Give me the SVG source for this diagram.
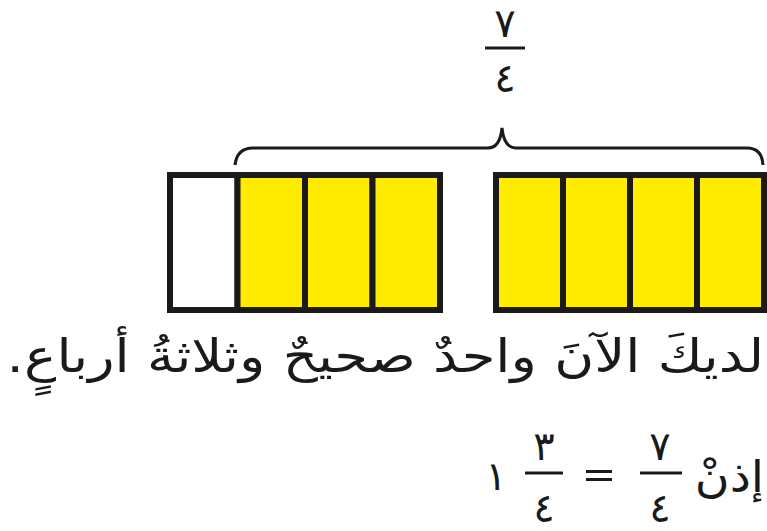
<svg xmlns="http://www.w3.org/2000/svg" width="767" height="531" viewBox="0 0 767 531">
<style>
.cell{fill:#FFEC00;stroke:#1a1a1a;stroke-width:6}
.empty{fill:#ffffff;stroke:#1a1a1a;stroke-width:6}
.brace{fill:none;stroke:#1a1a1a;stroke-width:3}
.fl{stroke:#1a1a1a;stroke-width:3}
.num{font-family:'DejaVu Sans','Noto Sans',sans-serif;font-size:40px;fill:#1a1a1a;text-anchor:middle}
.ar{font-family:'DejaVu Sans','Noto Sans',sans-serif;fill:#1a1a1a}
</style>
<rect width="767" height="531" fill="#ffffff"/>
<g id="top-fraction">
<text class="num" x="505" y="37">٧</text>
<line class="fl" x1="485" y1="48" x2="525" y2="48"/>
<text class="num" x="505" y="92">٤</text>
</g>
<g id="connectors">
<path id="brace" class="brace" d="M235,165 Q237,148 253,148 L488,148 Q500,148 502,128 Q504,148 516,148 L747,148 Q762,148 763,165"/>
</g>
<g id="bar-left">
<rect class="empty" x="170" y="175" width="67.5" height="135"/>
<rect class="cell" x="237.5" y="175" width="67.5" height="135"/>
<rect class="cell" x="305" y="175" width="67.5" height="135"/>
<rect class="cell" x="372.5" y="175" width="67.5" height="135"/>
</g>
<g id="bar-right">
<rect class="cell" x="496" y="175" width="67" height="135"/>
<rect class="cell" x="563" y="175" width="67" height="135"/>
<rect class="cell" x="630" y="175" width="67" height="135"/>
<rect class="cell" x="697" y="175" width="67" height="135"/>
</g>
<g id="sentence">
<text class="ar" transform="translate(764,372) scale(1.185,1)" x="0" y="0" font-size="46" direction="rtl" text-anchor="start">لديكَ الآنَ واحدٌ صحيحٌ وثلاثةُ أرباعٍ.</text>
</g>
<g id="equation">
<text class="ar" transform="translate(764,492) scale(1.08,1)" x="0" y="0" font-size="44" direction="rtl" text-anchor="start">إذنْ</text>
<text class="num" x="660" y="460">٧</text>
<line class="fl" x1="640" y1="473" x2="682" y2="473"/>
<text class="num" x="660" y="522">٤</text>
<rect x="586" y="470" width="26" height="3" fill="#1a1a1a"/>
<rect x="586" y="478" width="26" height="3" fill="#1a1a1a"/>
<text class="num" x="544" y="460">٣</text>
<line class="fl" x1="525" y1="473" x2="563" y2="473"/>
<text class="num" x="544" y="522">٤</text>
<text class="num" x="496" y="490">١</text>
</g>
</svg>
